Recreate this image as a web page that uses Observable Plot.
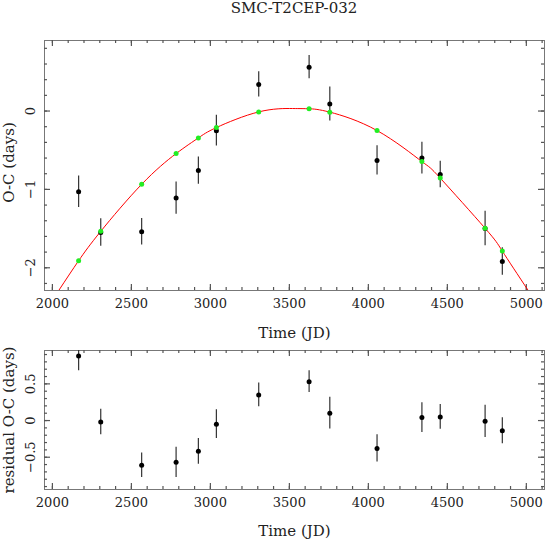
<!DOCTYPE html>
<html>
<head>
<meta charset="utf-8">
<script src="https://cdn.jsdelivr.net/npm/d3@7"></script>
<script src="https://cdn.jsdelivr.net/npm/@observablehq/plot@0.6"></script>
<style>
  html, body { margin: 0; padding: 0; background: #fff; }
  #wrap { position: relative; width: 546px; height: 542px; font-family: "DejaVu Serif", serif; color: #222; }
  #title { position: absolute; left: 44px; width: 500px; top: 0px; text-align: center; font-size: 15px; line-height: 16px; }
  .panel { position: absolute; left: 0; }
  .panel svg { overflow: visible; }
</style>
</head>
<body>
<div id="wrap">
  <div id="title">SMC-T2CEP-032</div>
  <div id="top" class="panel" style="top:0px"></div>
  <div id="bottom" class="panel" style="top:340px"></div>
</div>
<script>
// ---- data ----
const times     = [2166, 2306, 2565, 2783, 2924, 3038, 3306, 3625, 3756, 4055, 4339, 4455, 4739, 4848];
const observed  = [-1.03, -1.55, -1.54, -1.11, -0.76, -0.25, 0.34, 0.56, 0.09, -0.63, -0.60, -0.81, -1.50, -1.92];
const fitted    = [-1.91, -1.535, -0.935, -0.543, -0.343, -0.211, -0.011, 0.029, -0.014, -0.249, -0.645, -0.856, -1.496, -1.787];
const errors    = [0.20, 0.175, 0.168, 0.206, 0.175, 0.196, 0.162, 0.149, 0.216, 0.186, 0.203, 0.169, 0.22, 0.177];
const residuals = [0.88, -0.02, -0.61, -0.57, -0.42, -0.05, 0.35, 0.53, 0.10, -0.38, 0.04, 0.05, -0.01, -0.14];
// fitted curve samples
const curveTime = [2040, 2166, 2306, 2565, 2783, 2924, 3038, 3306, 3520, 3625, 3756, 4055, 4339, 4455, 4739, 4848, 5012];
const curveOC   = [-2.29, -1.91, -1.535, -0.935, -0.543, -0.343, -0.211, -0.011, 0.032, 0.029, -0.014, -0.249, -0.645, -0.856, -1.496, -1.787, -2.29];
// ticks
const xMajor = [2000, 2500, 3000, 3500, 4000, 4500, 5000];
const xMinor = [2000, 2100, 2200, 2300, 2400, 2500, 2600, 2700, 2800, 2900, 3000, 3100, 3200, 3300, 3400, 3500, 3600, 3700, 3800, 3900, 4000, 4100, 4200, 4300, 4400, 4500, 4600, 4700, 4800, 4900, 5000, 5100];
const yTopMajor = [-2, -1, 0];
const yTopMinor = [-2.2, -2.0, -1.8, -1.6, -1.4, -1.2, -1.0, -0.8, -0.6, -0.4, -0.2, 0, 0.2, 0.4, 0.6, 0.8];
const yBotMajor = [-0.5, 0, 0.5];
const yBotMinor = [-0.9, -0.8, -0.7, -0.6, -0.5, -0.4, -0.3, -0.2, -0.1, 0, 0.1, 0.2, 0.3, 0.4, 0.5, 0.6, 0.7, 0.8, 0.9];

const rows = times.map((t, i) => ({t, oc: observed[i], fit: fitted[i], err: errors[i], res: residuals[i]}));
const curve = curveTime.map((t, i) => ({t, oc: curveOC[i]}));

const fc = "#777";   // frame
const tc = "#555";   // ticks
const fmt = d => d < 0 ? "\u2212" + Math.abs(d) : String(d);
const W = 546, ML = 44, MR = 2;
const innerW = W - ML - MR;

function frameMarks(yMajor, yMinor, innerH) {
  const minorLen = 3, majorLen = 6;
  const o = {stroke: tc, strokeWidth: 1.2};
  return [
    Plot.frame({stroke: fc}),
    // x ticks, bottom and top edges (pointing inward)
    Plot.ruleX(xMinor, {x: d => d, insetTop: innerH - minorLen, ...o}),
    Plot.ruleX(xMinor, {x: d => d, insetBottom: innerH - minorLen, ...o}),
    Plot.ruleX(xMajor, {x: d => d, insetTop: innerH - majorLen, ...o}),
    Plot.ruleX(xMajor, {x: d => d, insetBottom: innerH - majorLen, ...o}),
    // y ticks, left and right edges (pointing inward)
    Plot.ruleY(yMinor, {y: d => d, insetRight: innerW - minorLen, ...o}),
    Plot.ruleY(yMinor, {y: d => d, insetLeft: innerW - minorLen, ...o}),
    Plot.ruleY(yMajor, {y: d => d, insetRight: innerW - majorLen, ...o}),
    Plot.ruleY(yMajor, {y: d => d, insetLeft: innerW - majorLen, ...o}),
    // tick labels
    Plot.text(xMajor, {x: d => d, frameAnchor: "bottom", dy: 17, text: d => String(d), fontSize: 13, fill: "#222"}),
    Plot.text(yMajor, {y: d => d, frameAnchor: "left", textAnchor: "middle", dx: -14, rotate: -90, text: fmt, fontSize: 13, fill: "#222"})
  ];
}

const style = {fontFamily: "DejaVu Serif, serif", fontSize: "13px", background: "transparent", color: "#222", overflow: "visible"};

const topH = 345, topMT = 40, topMB = 55;
const topPlot = Plot.plot({
  width: W, height: topH,
  marginLeft: ML, marginRight: MR, marginTop: topMT, marginBottom: topMB,
  x: {domain: [1950, 5115], axis: null},
  y: {domain: [-2.29, 0.9], axis: null},
  style,
  marks: [
    ...frameMarks(yTopMajor, yTopMinor, topH - topMT - topMB),
    Plot.line(curve, {x: "t", y: "oc", stroke: "#ff0000", strokeWidth: 1, curve: "natural", clip: true}),
    Plot.ruleX(rows, {x: "t", y1: d => d.oc - d.err, y2: d => d.oc + d.err, stroke: "#333", strokeWidth: 1.2, clip: true}),
    Plot.dot(rows, {x: "t", y: "oc", r: 2.5, fill: "#000", stroke: null}),
    Plot.dot(rows, {x: "t", y: "fit", r: 2.5, fill: "#22ee22", stroke: null}),
    Plot.text(["Time (JD)"], {frameAnchor: "bottom", dy: 47, text: d => d, fontSize: 15, fill: "#222"}),
    Plot.text(["O-C (days)"], {frameAnchor: "left", textAnchor: "middle", dx: -35, dy: -3, rotate: -90, text: d => d, fontSize: 15, fill: "#222"})
  ]
});
document.getElementById("top").appendChild(topPlot);

const botH = 202, botMT = 10, botMB = 53;
const botPlot = Plot.plot({
  width: W, height: botH,
  marginLeft: ML, marginRight: MR, marginTop: botMT, marginBottom: botMB,
  x: {domain: [1950, 5115], axis: null},
  y: {domain: [-0.94, 0.955], axis: null},
  style,
  marks: [
    ...frameMarks(yBotMajor, yBotMinor, botH - botMT - botMB),
    Plot.ruleX(rows, {x: "t", y1: d => d.res - d.err, y2: d => d.res + d.err, stroke: "#333", strokeWidth: 1.2, clip: true}),
    Plot.dot(rows, {x: "t", y: "res", r: 2.5, fill: "#000", stroke: null}),
    Plot.text(["Time (JD)"], {frameAnchor: "bottom", dy: 46, text: d => d, fontSize: 15, fill: "#222"}),
    Plot.text(["residual O-C (days)"], {frameAnchor: "left", textAnchor: "middle", dx: -35, rotate: -90, text: d => d, fontSize: 15, fill: "#222"})
  ]
});
document.getElementById("bottom").appendChild(botPlot);
</script>
</body>
</html>
